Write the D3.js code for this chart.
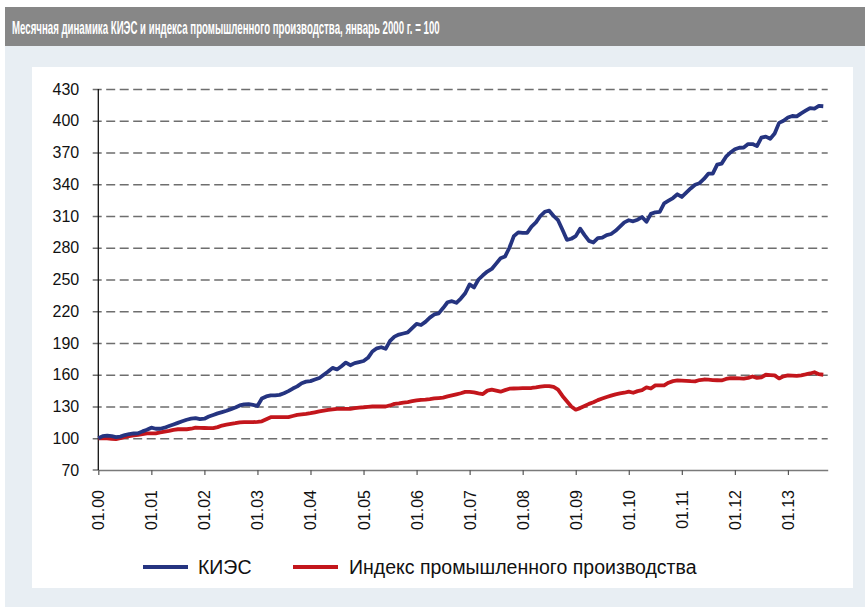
<!DOCTYPE html>
<html><head><meta charset="utf-8">
<script src="https://cdn.jsdelivr.net/npm/d3@7"></script>
<style>
html,body{margin:0;padding:0;background:#fff;}
svg{display:block;}
</style></head>
<body>
<script>
const title = "Месячная динамика КИЭС и индекса промышленного производства, январь 2000 г. = 100";
const seriesNames = ["КИЭС", "Индекс промышленного производства"];
const yTicks = [70,100,130,160,190,220,250,280,310,340,370,400,430];
const xTickIdx = [0,12,24,36,48,60,72,84,96,108,120,132,144,156];
const xTickLabels = ["01.00","01.01","01.02","01.03","01.04","01.05","01.06","01.07","01.08","01.09","01.10","01.11","01.12","01.13"];

// КИЭС, monthly from Jan 2000
const kies = [
100,102,102.5,102,101,101.5,103,104,104.5,104.7,106.5,108,
110,109,109,110,111.5,113,114.5,116,117.5,118.5,119,118,
118.5,120.5,122,123.5,124.7,126,127.5,129,131,132,132.3,131.5,
130.5,137.5,139.5,140.5,140.5,141,142.5,144.5,147,149,152,153.5,
154,155.5,157,160,163,166.5,165,168,171.5,169,171,172,
173,176,182,185,186,184.5,192,196,198,199,200,204,
208,207,210,214,217,218,223,228.5,229.5,228,232,237,
245.4,242.5,250,254,257.5,260,265,270,271.7,280,291,294.5,
294,294,300,304,310,314,315,310,306,297,287.5,288.5,
291,298,292,286.5,285,289,289.5,292,293,296,300,304,
306,305,306.5,309,304.5,312,313.5,314,322,324.5,327,330.5,
328,332,336,339.5,341,345,350,350,358.5,359.5,366,370,
373,374.5,374.7,378,378,376,384,385,383,388,398,400,
403,404.5,404.2,407,409.5,412,411.5,414,413.7
];
// Индекс промышленного производства
const ipp = [
100,100,100,99.5,99.2,100,101.3,102,102.7,103.3,104,104.7,
104.7,104.7,105.5,106.3,107,108,108.5,108.5,108.5,109,110,109.8,
109.7,109.5,109.5,110.5,112,112.8,113.5,114.2,115,115.2,115.2,115.2,
115.5,116,118,119.9,119.9,119.9,119.9,119.9,121,122,122.5,123,
123.7,124.5,125.3,126,126.7,127.3,127.8,127.8,127.8,127.8,128.5,129,
129.3,129.7,130,130,130,130,131,132.5,133,133.7,134.2,135,
135.7,136.3,136.5,137,137.6,138,138.4,139.5,140.5,141.5,142.5,143.8,
143.8,143.3,142.5,141.8,145,146,145,144,145.5,146.8,147,147.2,
147.3,147.4,147.5,148,148.7,149.3,149.3,148.5,146,140,135,130,
127,128.5,130.5,132.5,134,136,137.5,139,140.3,141.5,142.4,143,
144,143,144.5,145.5,148,147,150,150,150,152.5,154,154.6,
154.5,154.3,154,153.8,155,155.5,155.3,155,154.8,154.6,156,156.8,
156.7,156.5,156.3,157,158.4,157,157.5,160,159.7,159.4,156.5,158.5,
159.4,159.2,159,159.5,160.3,161.2,162.4,160.5,160
];

const W = 865, H = 615;
const svg = d3.select("body").append("svg").attr("width", W).attr("height", H);

// backgrounds
svg.append("rect").attr("x",5).attr("y",45).attr("width",860).attr("height",562).attr("fill","#e8eef3");
svg.append("rect").attr("x",5).attr("y",7).attr("width",860).attr("height",39).attr("fill","#878787");
svg.append("rect").attr("x",32).attr("y",67).attr("width",821).attr("height",521).attr("fill","#ffffff");

const tt = svg.append("text").attr("x",0).attr("y",0)
  .attr("fill","#fff")
  .attr("font-family","'Liberation Sans',Arial,sans-serif")
  .attr("font-weight","bold").attr("font-size",18)
  .text(title);
const tlen = tt.node().getComputedTextLength();
tt.attr("transform",`translate(12,33.5) scale(${428/tlen},1)`);

const x = d3.scaleLinear().domain([0,165]).range([98.3,827.7]);
const y = d3.scaleLinear().domain([70,430]).range([470,89]);
const font = "'Liberation Sans',Arial,sans-serif";

// gridlines (dashed) from the tick start
const grid = d3.axisRight(y).tickValues(yTicks.filter(v=>v>70)).tickSize(827.7-92.7).tickFormat("");
const gg = svg.append("g").attr("transform","translate(92.7,0)").call(grid);
gg.select(".domain").remove();
gg.selectAll("line").attr("stroke","#6e6e6e").attr("stroke-width",1.6).attr("stroke-dasharray","9,4.5");

// y labels
const ya = d3.axisLeft(y).tickValues(yTicks).tickSize(0).tickPadding(13.5).tickFormat(d3.format("d"));
const yg = svg.append("g").attr("transform","translate(92.7,0)").call(ya);
yg.select(".domain").remove();
yg.selectAll("text").attr("font-family",font).attr("font-size",16).attr("fill","#111");

// x axis
const xa = d3.axisBottom(x).tickValues(xTickIdx).tickSize(5).tickSizeOuter(0).tickFormat("");
const xg = svg.append("g").attr("transform",`translate(0,${y(70)})`).call(xa);
xg.select(".domain").attr("stroke","#7a7a7a").attr("stroke-width",1.5);
xg.selectAll("line").attr("stroke","#555").attr("stroke-width",1.2);
svg.append("line").attr("x1",92.7).attr("x2",98.3).attr("y1",y(70)).attr("y2",y(70)).attr("stroke","#555").attr("stroke-width",1.2);

svg.append("g").selectAll("text").data(xTickIdx).join("text")
  .attr("transform",(d,i)=>`translate(${x(d)+6},490) rotate(-90)`)
  .attr("text-anchor","end")
  .attr("font-family",font).attr("font-size",16).attr("fill","#111")
  .text((d,i)=>xTickLabels[i]);

// y axis line
svg.append("line").attr("x1",98.3).attr("x2",98.3).attr("y1",y(430)).attr("y2",y(70)).attr("stroke","#111").attr("stroke-width",1.3);

const line = d3.line().x((d,i)=>x(i)).y(d=>y(d));
svg.append("path").datum(ipp).attr("d",line).attr("fill","none").attr("stroke","#c3161c").attr("stroke-width",3.8).attr("stroke-linejoin","round");
svg.append("path").datum(kies).attr("d",line).attr("fill","none").attr("stroke","#253480").attr("stroke-width",3.8).attr("stroke-linejoin","round");

// legend
const leg = [{c:"#253480", x1:143, tx:198},{c:"#c3161c", x1:293, tx:349}];
leg.forEach((l,i)=>{
  svg.append("line").attr("x1",l.x1).attr("x2",l.x1+45).attr("y1",567).attr("y2",567).attr("stroke",l.c).attr("stroke-width",4);
  svg.append("text").attr("x",l.tx).attr("y",574).attr("font-family",font).attr("font-size",19.5).attr("fill","#111").text(seriesNames[i]);
});
</script>
</body></html>
